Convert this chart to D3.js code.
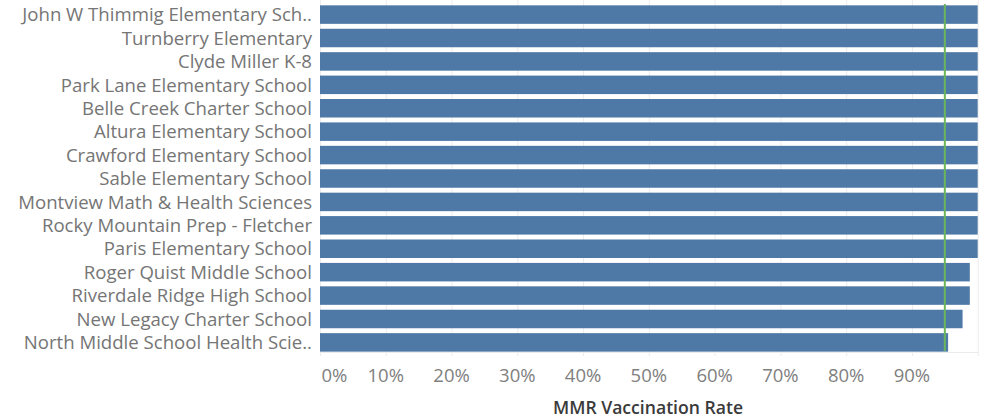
<!DOCTYPE html>
<html><head><meta charset="utf-8">
<script src="https://cdn.jsdelivr.net/npm/d3@7"></script>
<style>body{margin:0;background:#fff}svg{display:block}</style>
</head><body>
<svg id="chart" width="986" height="419"></svg>
<script>
const schools = ["John W Thimmig Elementary Sch..","Turnberry Elementary","Clyde Miller K-8","Park Lane Elementary School","Belle Creek Charter School","Altura Elementary School","Crawford Elementary School","Sable Elementary School","Montview Math & Health Sciences","Rocky Mountain Prep - Fletcher","Paris Elementary School","Roger Quist Middle School","Riverdale Ridge High School","New Legacy Charter School","North Middle School Health Scie.."];
const rates = [1.0,1.0,1.0,1.0,1.0,1.0,1.0,1.0,1.0,1.0,1.0,0.988,0.988,0.977,0.955];
const tickValues = [0,0.1,0.2,0.3,0.4,0.5,0.6,0.7,0.8,0.9];
const gridValues = [0,0.1,0.2,0.3,0.4,0.5,0.6,0.7,0.8,0.9,1.0];
const target = 0.95;
const axisTitle = "MMR Vaccination Rate";

const svg = d3.select("#chart");
const font = "'Open Sans', sans-serif";
const x = d3.scaleLinear().domain([0,1]).range([320,977.7]);
const y = d3.scaleBand().domain(schools).range([3,354]).paddingInner(0.21).paddingOuter(0.1);

// gridlines
svg.append("g").selectAll("line").data(gridValues).join("line")
  .attr("x1",d=>x(d)+0.5).attr("x2",d=>x(d)+0.5).attr("y1",0).attr("y2",356)
  .attr("stroke","#ececec").attr("stroke-width",1);
// bottom axis line
svg.append("line").attr("x1",320).attr("x2",978).attr("y1",352.5).attr("y2",352.5)
  .attr("stroke","#ececec");

// bars
svg.append("g").selectAll("rect").data(schools).join("rect")
  .attr("x",x(0)).attr("y",d=>y(d)).attr("height",y.bandwidth())
  .attr("width",(d,i)=>x(rates[i])-x(0)).attr("fill","#4e79a7");

// target line
svg.append("line").attr("x1",x(target)).attr("x2",x(target)).attr("y1",4).attr("y2",351)
  .attr("stroke","#6ab55c").attr("stroke-width",2);

// category labels
svg.append("g").selectAll("text").data(schools).join("text")
  .attr("x",312).attr("y",d=>y(d)+y.bandwidth()/2).attr("dy","0.36em")
  .attr("text-anchor","end").attr("font-family",font).attr("font-size",18.6)
  .attr("fill","#757575").text(d=>d);

// tick labels
const fmt = d3.format(".0%");
svg.append("g").selectAll("text").data(tickValues).join("text")
  .attr("x",d=>d===0?x(d)+1.5:x(d)).attr("y",375).attr("dy","0.36em")
  .attr("text-anchor",d=>d===0?"start":"middle").attr("font-family",font).attr("font-size",18.5)
  .attr("fill","#808080").text(d=>fmt(d));

// axis title
svg.append("text").attr("x",648).attr("y",408).attr("dy","0.36em").attr("text-anchor","middle")
  .attr("font-family",font).attr("font-size",17.6).attr("font-weight",600).attr("fill","#3a3a3a")
  .text(axisTitle);
</script>
</body></html>
